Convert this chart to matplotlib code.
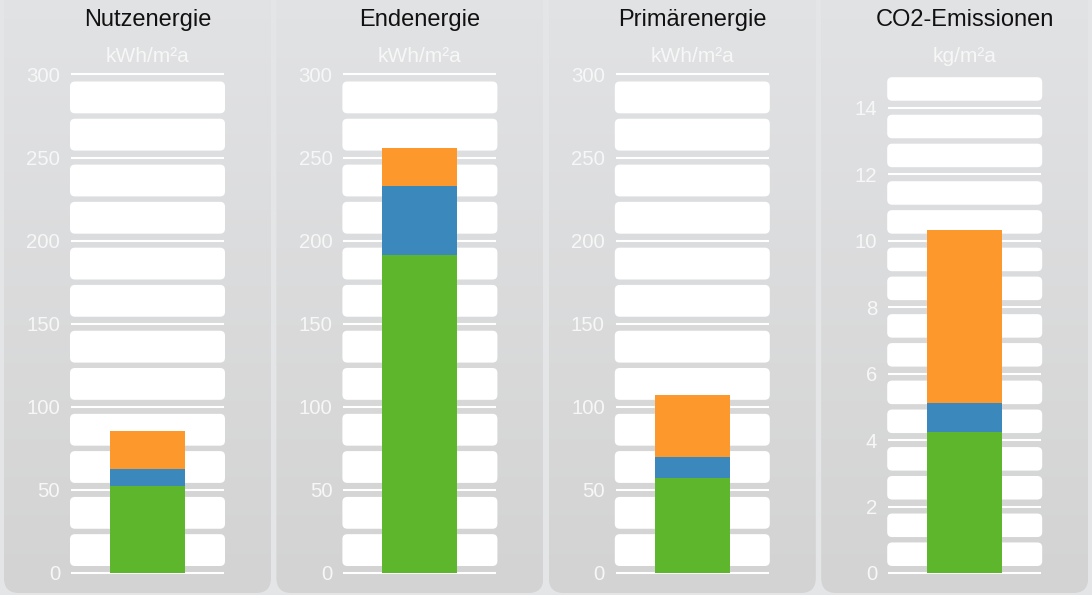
import numpy as np
import matplotlib
matplotlib.use("Agg")
import matplotlib.pyplot as plt
from matplotlib.patches import FancyBboxPatch
from matplotlib.colors import to_rgb

plt.rcParams['font.family'] = ['Liberation Sans', 'DejaVu Sans']

# ---- data ----
categories = ["Nutzenergie", "Endenergie", "Primärenergie", "CO2-Emissionen"]
units = ["kWh/m²a", "kWh/m²a", "kWh/m²a", "kg/m²a"]
green = [52.4, 191.3, 57.3, 4.23]
blue = [10.1, 41.6, 12.7, 0.89]
orange = [22.9, 22.8, 37.1, 5.2]
ymax = [300, 300, 300, 15]
tick_step = [50, 50, 50, 2]
tick_top = [300, 300, 300, 14]

# ---- styles ----
W, H = 1092, 595
C_GREEN = "#5eb62c"
C_BLUE = "#3b89bc"
C_ORANGE = "#fd982d"
FIG_BG = "#e4e5e7"
PANEL_TOP = "#e2e3e5"
PANEL_BOT = "#d3d3d3"

fig = plt.figure(figsize=(W / 100, H / 100), dpi=100, facecolor=FIG_BG)
bg = fig.add_axes([0, 0, 1, 1], zorder=0)
bg.set_xlim(0, W)
bg.set_ylim(H, 0)
bg.axis("off")

spacing = 272.4
grad = np.linspace(0, 1, 256)[:, None]
ct, cb = np.array(to_rgb(PANEL_TOP)), np.array(to_rgb(PANEL_BOT))
grad_img = ct[None, None, :] * (1 - grad[..., None]) + cb[None, None, :] * grad[..., None]

ax_left0, ax_w = 70, 155
ax_top, ax_bot = 74.5, 573

for i in range(4):
    # panel background
    px0 = 4 + spacing * i
    pw = 267
    py0, py1 = -20, 593
    panel = FancyBboxPatch((px0, py0), pw, py1 - py0,
                           boxstyle="round,pad=0,rounding_size=15",
                           facecolor="none", edgecolor="none")
    bg.add_patch(panel)
    im = bg.imshow(grad_img, extent=(px0, px0 + pw, py1, py0), origin="upper",
                   aspect="auto", zorder=1, interpolation="bilinear")
    im.set_clip_path(panel)

    # chart axes
    axl = ax_left0 + spacing * i
    ax = fig.add_axes([axl / W, (H - ax_bot) / H, ax_w / W, (ax_bot - ax_top) / H], zorder=2)
    ax.patch.set_alpha(0)
    ax.set_xlim(0, 1)
    ax.set_ylim(0, ymax[i])
    for s in ax.spines.values():
        s.set_visible(False)
    ax.set_xticks([])
    ticks = np.arange(0, tick_top[i] + 0.001, tick_step[i])
    ax.set_yticks(ticks)
    ax.set_yticklabels([f"{t:g}" for t in ticks])
    ax.tick_params(axis="y", length=0, pad=7.2, labelsize=14.7, labelcolor="#f7f7f7")

    # white rounded shelves (drawn in pixel coords on background)
    h = tick_step[i] / 2.0
    a = 0.0
    while a < ymax[i] - 1e-9:
        b = a + h
        on_grid_a = abs(a / tick_step[i] - round(a / tick_step[i])) < 1e-6
        on_grid_b = abs(b / tick_step[i] - round(b / tick_step[i])) < 1e-6 and b <= tick_top[i] + 1e-9
        ya = H - ax.transData.transform((0, a))[1]
        yb = H - ax.transData.transform((0, b))[1]
        y_low = ya - (7 if on_grid_a else 2.7)
        y_high = yb + (7 if on_grid_b else 2.7)
        box = FancyBboxPatch((axl, y_high), ax_w, y_low - y_high,
                             boxstyle="round,pad=0,rounding_size=5",
                             facecolor="white", edgecolor="none", zorder=3)
        bg.add_patch(box)
        a = b

    # gridlines
    for t in ticks:
        ax.axhline(t, xmin=2 / ax_w, xmax=(ax_w - 2) / ax_w, color="white",
                   lw=1.5, zorder=1, clip_on=False)

    # stacked bar
    bw = 75 / ax_w
    ax.bar(0.5, green[i], width=bw, color=C_GREEN, zorder=3)
    ax.bar(0.5, blue[i], width=bw, bottom=green[i], color=C_BLUE, zorder=3)
    ax.bar(0.5, orange[i], width=bw, bottom=green[i] + blue[i], color=C_ORANGE, zorder=3)

    # titles
    cx = (axl + ax_w / 2) / W
    fig.text(cx, 1 - 26 / H, categories[i], ha="center", va="baseline",
             fontsize=17, color="#111111")
    fig.text(cx, 1 - 62 / H, units[i], ha="center", va="baseline",
             fontsize=15, color="#f7f7f7")

fig.savefig("out.png", dpi=100, facecolor=FIG_BG)
